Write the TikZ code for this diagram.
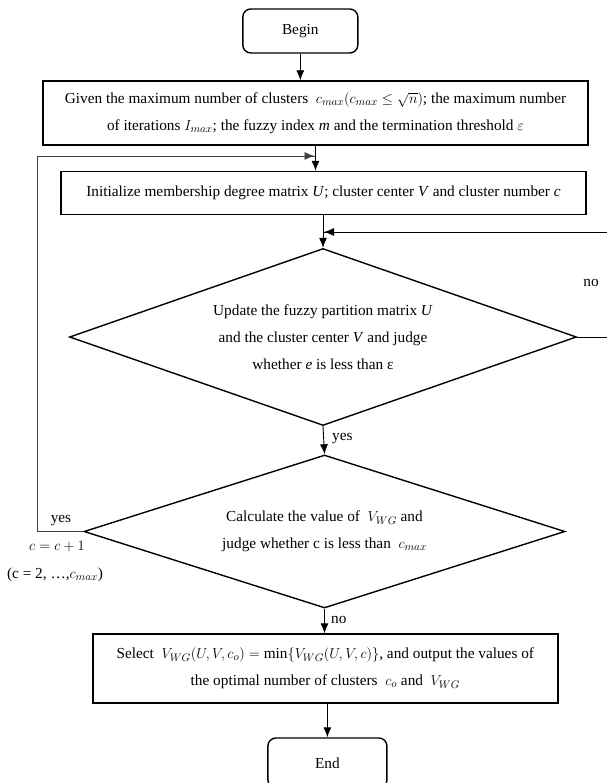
\documentclass[tikz,border=0pt]{standalone}
\usepackage{fontspec}
\setmainfont{Liberation Serif}
\usetikzlibrary{shapes.geometric,arrows.meta}
\begin{document}
\begin{tikzpicture}[x=1pt,y=-1pt,
  box/.style={draw,line width=1.4pt,inner sep=0pt,align=center},
  term/.style={box,rounded corners=8pt},
  dec/.style={draw,line width=1.4pt,diamond,inner sep=0pt,align=center},
  arr/.style={line width=0.9pt,-{Latex[length=10pt,width=8pt]}},
  loopl/.style={line width=0.9pt,draw=black!75},
  txt/.style={font=\fontsize{15.3}{27}\selectfont},
  lbl/.style={font=\fontsize{15.3}{16}\selectfont,inner sep=0pt}]
\useasboundingbox (0,0) rectangle (606,783);
\node[term,txt,minimum width=115pt,minimum height=44pt] (begin) at (300.3,31) {Begin};
\node[box,txt,minimum width=545pt,minimum height=64pt] (given) at (315.5,113)
 {Given the maximum number of clusters \ $c_{max}(c_{max}\leq\sqrt{n})$; the maximum number\\
  of iterations $I_{max}$; the fuzzy index \textit{m} and the termination threshold $\varepsilon$};
\node[box,txt,minimum width=525pt,minimum height=43pt] (init) at (323.5,193)
 {Initialize membership degree matrix \textit{U}; cluster center \textit{V} and cluster number \textit{c}};
\node[dec,txt,minimum width=507pt,minimum height=177pt,aspect=2.86] (d1) at (323,337)
 {Update the fuzzy partition matrix \textit{U}\\and the cluster center \textit{V} and judge\\whether \textit{e} is less than ε};
\node[dec,txt,minimum width=481pt,minimum height=153pt,aspect=3.14] (d2) at (324.5,531.5)
 {Calculate the value of \ $V_{WG}$ and\\judge whether c is less than \ $c_{max}$};
\node[box,txt,minimum width=465pt,minimum height=69pt] (sel) at (325.3,668.5)
 {Select \ $V_{WG}(U,V,c_o)=\min\{V_{WG}(U,V,c)\}$, and output the values of\\
  the optimal number of clusters \ $c_o$ and \ $V_{WG}$};
\node[term,txt,minimum width=119pt,minimum height=50pt] (end) at (327.4,763) {End};
% coordinates
\coordinate (j1) at (315.5,156);
\coordinate (lc) at (37,531.5);
\coordinate (rc) at (612,337);
\coordinate (j2) at (323,232);
% connectors
\draw[arr] (begin.south) -- (begin.south |- given.north);
\draw[arr] (given.south) -- (given.south |- init.north);
\draw[loopl] (d2.west) -- (lc) -- (lc |- j1) -- ([xshift=-1pt]j1);
\draw[arr,draw=black!75] (lc |- j1) -- ([xshift=-1pt]j1);
\draw[arr] (d1.north |- init.south) -- (d1.north);
\draw[loopl,draw=black] (d1.east) -- (rc) |- (j2);
\draw[arr] (rc |- j2) -- ([xshift=1pt]j2);
\draw[arr] (d1.south) -- (d2.north);
\draw[arr] (d2.south) -- (d2.south |- sel.north);
\draw[arr] (end.north |- sel.south) -- (end.north);
% labels
\node[lbl] (no1) at (591,283) {no};
\node[lbl,anchor=west] (yes1) at (332,439) {yes};
\node[lbl,anchor=west] (no2) at (331,620) {no};
\node[lbl] (yes2) at (61,521) {yes};
\node[lbl] (cinc) at (57,546) {$c=c+1$};
\node[lbl] (crange) at (55,575) {(c = 2, …,$c_{max}$)};
\end{tikzpicture}
\end{document}
